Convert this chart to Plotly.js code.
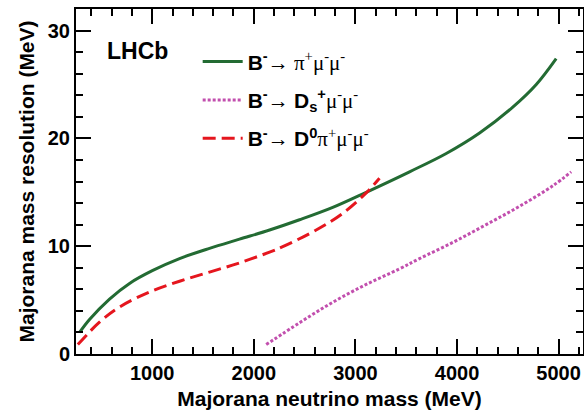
<!DOCTYPE html>
<html>
<head>
<meta charset="utf-8">
<script src="https://cdn.plot.ly/plotly-3.0.1.min.js"></script>
<style>html,body{margin:0;padding:0;background:#fff;}#chart{width:584px;height:410px;}</style>
</head>
<body>
<div id="chart"></div>
<script>
// Data
const piMass   = [285, 383, 580, 777, 1006, 1269, 1564, 1859, 2155, 2450, 2777, 3106, 3533, 3894, 4222, 4549, 4780, 4976];
const piRes    = [2.0, 3.2, 5.1, 6.55, 7.75, 8.85, 9.8, 10.65, 11.5, 12.45, 13.6, 15.0, 16.9, 18.6, 20.5, 22.9, 25.0, 27.4];
const dsMass   = [2122, 2450, 2777, 3106, 3434, 3631, 3959, 4287, 4615, 4943, 5124];
const dsRes    = [0.87, 2.9, 4.8, 6.45, 7.9, 8.85, 10.35, 12.0, 13.7, 15.6, 16.9];
const d0Mass   = [268, 481, 678, 973, 1269, 1564, 1859, 2155, 2285, 2614, 2876, 3106, 3237];
const d0Res    = [0.87, 2.95, 4.35, 5.75, 6.75, 7.6, 8.45, 9.45, 9.95, 11.5, 13.05, 14.95, 16.3];

const xTickVals = [1000, 2000, 3000, 4000, 5000];
const yTickVals = [0, 10, 20, 30];

const serif = s => '<span style="font-family:\'Liberation Serif\';font-weight:normal">' + s + '</span>';
const names = [
  '<b>B</b><sup>-</sup>' + serif('→ π<sup>+</sup>μ<sup>-</sup>μ<sup>-</sup>'),
  '<b>B</b><sup>-</sup>' + serif('→ ') + '<b>D</b><sub>s</sub><sup>+</sup>' + serif('μ<sup>-</sup>μ<sup>-</sup>'),
  '<b>B</b><sup>-</sup>' + serif('→ ') + '<b>D</b><sup>0</sup>' + serif('π<sup>+</sup>μ<sup>-</sup>μ<sup>-</sup>')
];

const traces = [
  {x: piMass, y: piRes, name: names[0], mode: 'lines', line: {color: '#236b33', width: 3, shape: 'spline', smoothing: 1}, legendgroup: 'a'},
  {x: dsMass, y: dsRes, name: names[1], mode: 'lines', line: {color: '#c24fae', width: 3, dash: '3px,2px', shape: 'spline', smoothing: 1}, legendgroup: 'b'},
  {x: d0Mass, y: d0Res, name: names[2], mode: 'lines', line: {color: '#e5161e', width: 3, dash: '13px,6px', shape: 'spline', smoothing: 1}, legendgroup: 'c'}
];

const fontFam = '"Liberation Sans", Arial, sans-serif';
const axisCommon = {
  showline: true, linecolor: '#000', linewidth: 2, mirror: 'allticks',
  ticks: 'inside', ticklen: 15, tickwidth: 2, tickcolor: '#000',
  showgrid: false, zeroline: false,
  tickfont: {family: fontFam, size: 20, color: '#000', weight: 'bold'}
};

const layout = {
  width: 584, height: 410,
  margin: {l: 76, r: 1, t: 9, b: 56},
  paper_bgcolor: '#fff', plot_bgcolor: '#fff',
  showlegend: true,
  legend: {
    x: 0.24, y: 0.906, xanchor: 'left', yanchor: 'top',
    bgcolor: 'rgba(0,0,0,0)', borderwidth: 0,
    font: {family: fontFam, size: 21, color: '#000', weight: 'bold'},
    traceorder: 'grouped', tracegroupgap: 8, itemwidth: 40
  },
  xaxis: Object.assign({}, axisCommon, {
    range: [250, 5240], tickvals: xTickVals,
    minor: {dtick: 200, tick0: 0, ticks: 'inside', ticklen: 7, tickwidth: 2, tickcolor: '#000'},
    title: {text: '<b>Majorana neutrino mass (MeV)</b>', font: {family: fontFam, size: 21, color: '#000'}, standoff: 8}
  }),
  yaxis: Object.assign({}, axisCommon, {
    range: [0, 32], tickvals: yTickVals,
    minor: {dtick: 2, tick0: 0, ticks: 'inside', ticklen: 7, tickwidth: 2, tickcolor: '#000'},
    title: {text: '<b>Majorana mass resolution (MeV)</b>', font: {family: fontFam, size: 21, color: '#000'}, standoff: 7}
  }),
  annotations: [{
    xref: 'paper', yref: 'paper', x: 0.058, y: 0.878, xanchor: 'left', yanchor: 'middle',
    text: '<b>LHCb</b>', showarrow: false, font: {family: fontFam, size: 23, color: '#000'}
  }]
};

Plotly.newPlot('chart', traces, layout, {displayModeBar: false, staticPlot: true});
</script>
</body>
</html>
